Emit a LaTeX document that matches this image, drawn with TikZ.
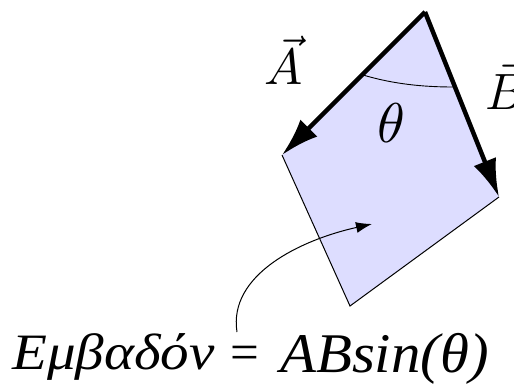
\documentclass[tikz,border=0pt]{standalone}
\usepackage{graphicx}
\usepackage{fontspec}
\setmainfont{Liberation Serif}
\usetikzlibrary{arrows.meta}
\definecolor{areafill}{RGB}{221,221,255}
\tikzset{
  vecarrow/.style={line width=4.5pt,-{Latex[length=38pt,width=24pt]}},
  edge/.style={line width=1pt},
  lbl/.style={font=\fontsize{51}{60}\selectfont,inner sep=0pt},
  mlbl/.style={inner sep=0pt},
}
\begin{document}
\begin{tikzpicture}[x=1pt,y=-1pt]
\useasboundingbox (0,0) rectangle (514,387);
\coordinate (O) at (425,12);
\coordinate (A) at (282,155);
\coordinate (C) at (350,306);
\coordinate (B) at (499,197);
\fill[areafill] (O) -- (A) -- (C) -- (B) -- cycle;
\draw[edge] (A) -- (C) -- (B);
\draw[line width=0.9pt] (363,75) .. controls (393,84) and (423,87) .. (453,87);
\draw[vecarrow] (O) -- (A);
\draw[vecarrow] (O) -- (B);
\node[mlbl,anchor=base] (la) at (284,85) {\scalebox{5.1}{$\vec{A}$}};
\node[mlbl,anchor=base west] (lb) at (485,110) {\scalebox{5.1}{$\vec{B}$}};
\node[mlbl,anchor=base] (th) at (391,143) {\scalebox{5.6}{$\theta$}};
\node[lbl,anchor=base west] (w) at (12,369) {\scalebox{1.12}[1]{\itshape Eμβαδόν}};
\node[lbl,anchor=base west] (eqs) at (230,369) {=};
\node[lbl,font=\fontsize{56}{60}\selectfont,anchor=base west] (rhs) at (280,372) {\scalebox{1.05}[1]{\itshape ABsin(θ)}};
\coordinate (s) at (237,332);
\coordinate (t) at (372,224);
\draw[line width=1pt,-{Latex[length=16pt,width=11pt]}] (s) .. controls (228,275) and (300,240) .. (t);
\end{tikzpicture}
\end{document}
